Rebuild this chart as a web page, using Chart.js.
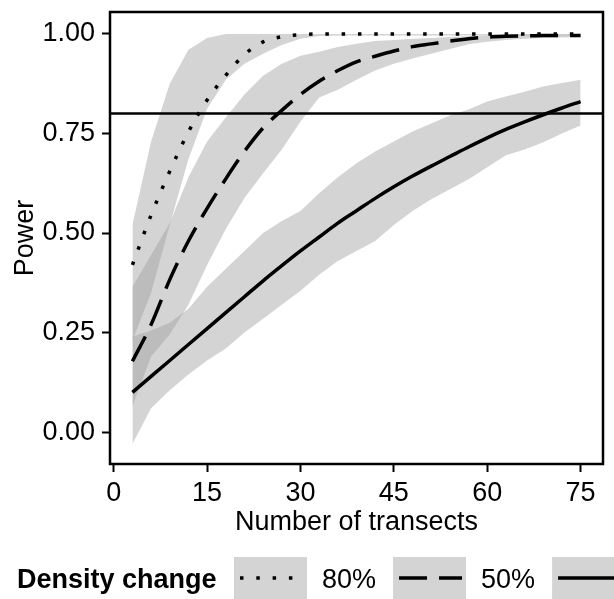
<!DOCTYPE html>
<html lang="en">
<head>
<meta charset="UTF-8" />
<title>Power vs number of transects</title>
<script src="https://cdn.jsdelivr.net/npm/chart.js"></script>
<style>
  html, body { margin: 0; padding: 0; background: #fff; }
  #wrap { width: 614px; height: 599px; }
</style>
</head>
<body>
<div id="wrap"><canvas id="powerChart" width="614" height="599"></canvas></div>
<script>
// number of transects (x) and the simulated power per density change
const transects = [3, 6, 9, 12, 15, 18, 21, 24, 27, 30, 33, 36, 39, 42, 45, 48, 51, 54, 57, 60, 63, 66, 69, 72, 75];

const power80 = [0.42, 0.545, 0.655, 0.754, 0.834, 0.896, 0.948, 0.98, 0.993, 0.998, 1, 1, 1, 1, 1, 1, 1, 1, 1, 1, 1, 1, 1, 1, 1];
const lower80 = [0.23, 0.35, 0.52, 0.685, 0.812, 0.885, 0.925, 0.95, 0.972, 0.988, 0.995, 0.996, 0.996, 0.996, 0.996, 0.996, 0.996, 0.996, 0.996, 0.996, 0.996, 0.996, 0.996, 0.996, 0.996];
const upper80 = [0.52, 0.73, 0.875, 0.96, 0.99, 1, 1, 1, 1, 1, 1, 1, 1, 1, 1, 1, 1, 1, 1, 1, 1, 1, 1, 1, 1];

const power50 = [0.178, 0.27, 0.383, 0.48, 0.562, 0.636, 0.705, 0.764, 0.808, 0.848, 0.881, 0.908, 0.93, 0.944, 0.957, 0.968, 0.975, 0.982, 0.988, 0.992, 0.994, 0.995, 0.996, 0.996, 0.996];
const lower50 = [0.065, 0.19, 0.245, 0.32, 0.42, 0.51, 0.588, 0.65, 0.71, 0.78, 0.84, 0.86, 0.885, 0.908, 0.925, 0.938, 0.95, 0.962, 0.974, 0.98, 0.985, 0.988, 0.99, 0.991, 0.992];
const upper50 = [0.365, 0.445, 0.525, 0.64, 0.73, 0.79, 0.848, 0.895, 0.925, 0.945, 0.955, 0.967, 0.975, 0.982, 0.985, 0.988, 0.99, 0.992, 0.994, 0.996, 0.997, 0.998, 0.998, 0.998, 0.998];

const power20 = [0.10, 0.14, 0.18, 0.22, 0.26, 0.30, 0.34, 0.38, 0.418, 0.455, 0.49, 0.525, 0.556, 0.587, 0.616, 0.643, 0.668, 0.692, 0.716, 0.739, 0.76, 0.779, 0.797, 0.814, 0.83];
const lower20 = [-0.03, 0.06, 0.105, 0.145, 0.18, 0.21, 0.25, 0.285, 0.32, 0.355, 0.395, 0.43, 0.455, 0.48, 0.52, 0.555, 0.585, 0.61, 0.635, 0.665, 0.695, 0.71, 0.728, 0.75, 0.77];
const upper20 = [0.24, 0.255, 0.275, 0.31, 0.365, 0.41, 0.455, 0.5, 0.53, 0.555, 0.6, 0.64, 0.675, 0.705, 0.73, 0.755, 0.775, 0.795, 0.81, 0.83, 0.843, 0.855, 0.868, 0.877, 0.885];

const targetPower = 0.8;
const densityLabels = ["80%", "50%", "20%"];
const xTickValues = [0, 15, 30, 45, 60, 75];
const yTickValues = [0, 0.25, 0.5, 0.75, 1];
const xRange = [-0.6, 78.6];
const yRange = [-0.08, 1.055];

const FONT = '"Liberation Sans", Arial, Helvetica, sans-serif';
const FONT_SIZE = 27;
const RIBBON = "rgba(160,160,160,0.45)";
const LINE_W = 3.5;
const dashes = [[3.5, 12.8], [28, 12], []];

function pts(ys) {
  return transects.map((x, i) => ({ x: x, y: ys[i] }));
}

function curve(label, ys, dash) {
  return {
    label: label,
    data: pts(ys),
    borderColor: "#000",
    borderWidth: LINE_W,
    borderDash: dash,
    borderCapStyle: "butt",
    pointRadius: 0,
    cubicInterpolationMode: "monotone",
    fill: false,
  };
}

function band(ys, fill) {
  return {
    label: "",
    data: pts(ys),
    borderWidth: 0,
    borderColor: "rgba(0,0,0,0)",
    backgroundColor: RIBBON,
    pointRadius: 0,
    tension: 0,
    fill: fill,
  };
}

// first dataset is drawn on top, so the lines go first and the ribbons last
const datasets = [
  curve(densityLabels[0], power80, dashes[0]),
  curve(densityLabels[1], power50, dashes[1]),
  curve(densityLabels[2], power20, dashes[2]),
  {
    label: "target",
    data: [{ x: xRange[0], y: targetPower }, { x: xRange[1], y: targetPower }],
    borderColor: "#000",
    borderWidth: 2.5,
    pointRadius: 0,
    fill: false,
  },
  band(lower80, false), band(upper80, "-1"),
  band(lower50, false), band(upper50, "-1"),
  band(lower20, false), band(upper20, "-1"),
];

// panel frame, axis titles and the bottom legend
const decorations = {
  id: "decorations",
  afterDatasetsDraw(chart) {
    const { ctx, chartArea: a } = chart;
    ctx.save();
    ctx.strokeStyle = "#000";
    ctx.lineWidth = 2.5;
    ctx.strokeRect(a.left, a.top, a.right - a.left, a.bottom - a.top);
    ctx.restore();
  },
  afterDraw(chart) {
    const { ctx, chartArea: a } = chart;
    ctx.save();
    ctx.fillStyle = "#000";
    ctx.font = FONT_SIZE + "px " + FONT;
    ctx.textAlign = "center";
    ctx.textBaseline = "alphabetic";
    ctx.fillText("Number of transects", (a.left + a.right) / 2, 530);

    ctx.save();
    ctx.translate(33, (a.top + a.bottom) / 2);
    ctx.rotate(-Math.PI / 2);
    ctx.fillText("Power", 0, 0);
    ctx.restore();

    // legend
    ctx.textAlign = "left";
    ctx.font = "bold " + FONT_SIZE + "px " + FONT;
    ctx.fillText("Density change", 17, 588);
    ctx.font = FONT_SIZE + "px " + FONT;
    let x = 234;
    densityLabels.forEach((lab, i) => {
      ctx.fillStyle = RIBBON;
      ctx.fillRect(x, 557, 73, 46);
      ctx.strokeStyle = "#000";
      ctx.lineWidth = LINE_W;
      ctx.lineCap = "butt";
      ctx.setLineDash(dashes[i]);
      ctx.beginPath();
      ctx.moveTo(x + 6, 578);
      ctx.lineTo(x + 69, 578);
      ctx.stroke();
      ctx.setLineDash([]);
      ctx.fillStyle = "#000";
      const tx = x + 73 + 15;
      ctx.fillText(lab, tx, 588);
      x = tx + ctx.measureText(lab).width + 17;
    });
    ctx.restore();
  },
};

const tickGrid = { drawOnChartArea: false, drawTicks: true, tickLength: 8, tickWidth: 2, tickColor: "#000", color: "#000" };

new Chart(document.getElementById("powerChart"), {
  type: "line",
  data: { datasets: datasets },
  plugins: [decorations],
  options: {
    responsive: false,
    animation: false,
    devicePixelRatio: 1,
    layout: { padding: { top: 12, right: 11, left: 0, bottom: 0 } },
    plugins: {
      legend: { display: false },
      tooltip: { enabled: false },
      filler: { drawTime: "beforeDatasetsDraw" },
    },
    scales: {
      x: {
        type: "linear",
        min: xRange[0],
        max: xRange[1],
        afterBuildTicks: (s) => { s.ticks = xTickValues.map((v) => ({ value: v })); },
        afterFit: (s) => { s.height = 135; s.paddingLeft = 0; s.paddingRight = 0; },
        border: { display: false },
        grid: tickGrid,
        ticks: {
          color: "#000",
          font: { family: FONT, size: FONT_SIZE },
          padding: 5,
          maxRotation: 0,
          autoSkip: false,
          callback: (v) => String(v),
        },
      },
      y: {
        type: "linear",
        min: yRange[0],
        max: yRange[1],
        afterBuildTicks: (s) => { s.ticks = yTickValues.map((v) => ({ value: v })); },
        afterFit: (s) => { s.width = 110; s.paddingTop = 0; s.paddingBottom = 0; },
        border: { display: false },
        grid: tickGrid,
        ticks: {
          color: "#000",
          font: { family: FONT, size: FONT_SIZE },
          padding: 7,
          autoSkip: false,
          callback: (v) => v.toFixed(2),
        },
      },
    },
  },
});
</script>
</body>
</html>
